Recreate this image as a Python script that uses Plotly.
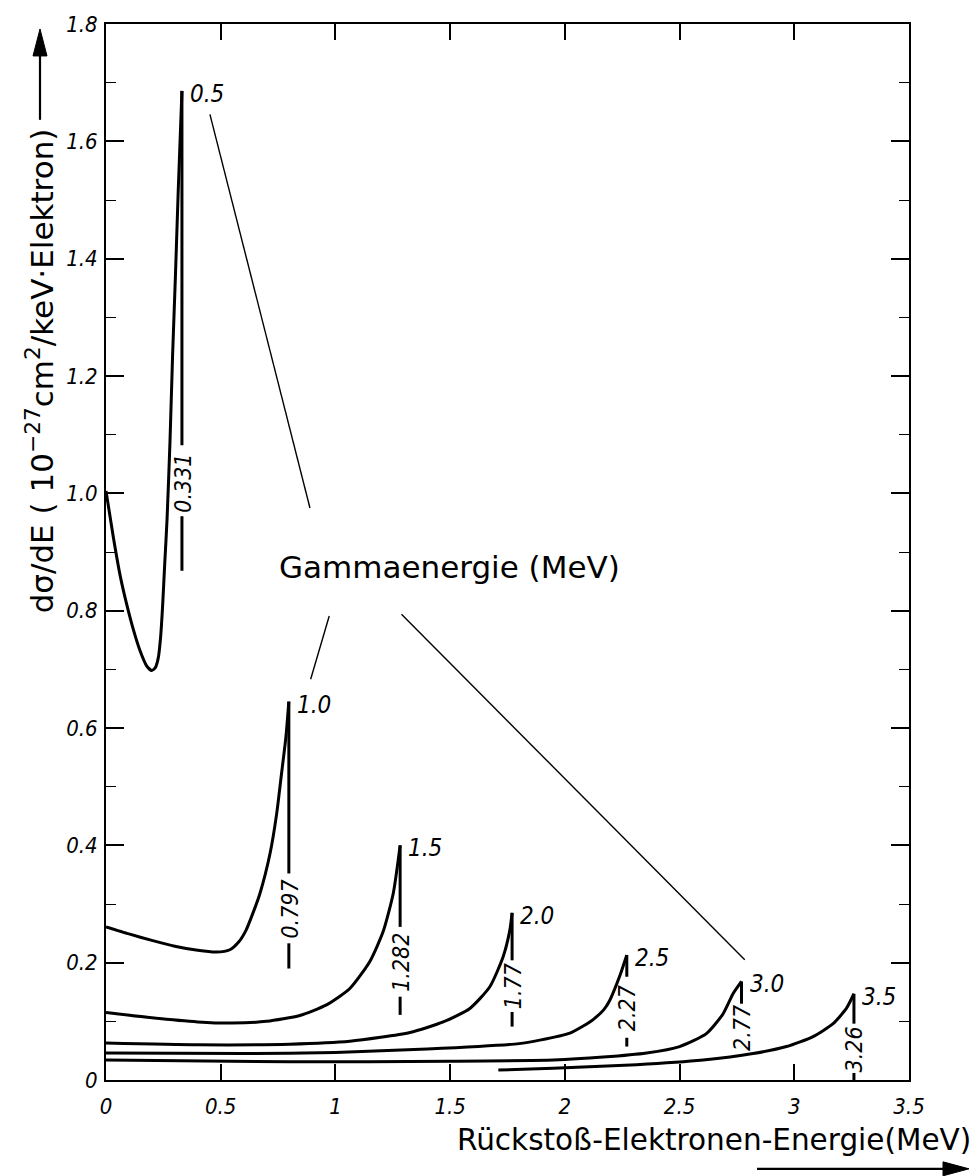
import plotly.graph_objects as go

# Gamma energies (MeV) with their Compton edges (MeV)
GAMMA_LABELS = ["0.5", "1.0", "1.5", "2.0", "2.5", "3.0", "3.5"]
EDGE = [0.331, 0.797, 1.282, 1.77, 2.27, 2.77, 3.26]
EDGE_LABELS = ["0.331", "0.797", "1.282", "1.77", "2.27", "2.77", "3.26"]

# Recoil electron energy (MeV) and dσ/dE (10^-27 cm²/keV·electron) per gamma energy
E_05 = [0.0, 0.032, 0.061, 0.090, 0.119, 0.148, 0.177, 0.199, 0.215, 0.228, 0.238,
        0.247, 0.256, 0.266, 0.279, 0.290, 0.303, 0.315, 0.331]
S_05 = [1.004, 0.925, 0.861, 0.811, 0.768, 0.732, 0.706, 0.698, 0.703, 0.720, 0.755,
        0.810, 0.880, 0.955, 1.089, 1.232, 1.375, 1.518, 1.686]

E_10 = [0.0, 0.1, 0.2, 0.3, 0.4, 0.48, 0.54, 0.58, 0.61, 0.64, 0.671, 0.715, 0.744,
        0.765, 0.784, 0.797]
S_10 = [0.261, 0.249, 0.238, 0.228, 0.221, 0.218, 0.222, 0.236, 0.255, 0.284, 0.318,
        0.386, 0.454, 0.522, 0.584, 0.645]

E_15 = [0.0, 0.2, 0.4, 0.55, 0.7, 0.845, 0.961, 1.063, 1.15, 1.208, 1.252, 1.282]
S_15 = [0.115, 0.106, 0.099, 0.097, 0.100, 0.110, 0.128, 0.156, 0.202, 0.253, 0.318, 0.400]

E_20 = [0.0, 0.4, 0.8, 1.063, 1.325, 1.47, 1.586, 1.673, 1.731, 1.76, 1.77]
S_20 = [0.063, 0.060, 0.061, 0.066, 0.081, 0.099, 0.122, 0.159, 0.210, 0.255, 0.285]

E_25 = [0.0, 0.6, 1.0, 1.4, 1.8, 1.891, 2.022, 2.08, 2.123, 2.17, 2.196, 2.24, 2.27]
S_25 = [0.046, 0.045, 0.047, 0.053, 0.062, 0.068, 0.080, 0.092, 0.103, 0.120, 0.136,
        0.178, 0.213]

E_30 = [0.0, 0.8, 1.5, 1.95, 2.167, 2.356, 2.5, 2.617, 2.69, 2.733, 2.77]
S_30 = [0.034, 0.031, 0.032, 0.034, 0.039, 0.046, 0.057, 0.079, 0.113, 0.147, 0.168]

E_35 = [1.71, 1.949, 2.312, 2.603, 2.82, 2.966, 3.082, 3.169, 3.227, 3.26]
S_35 = [0.017, 0.020, 0.026, 0.034, 0.045, 0.057, 0.074, 0.096, 0.122, 0.147]

CURVES = [(E_05, S_05), (E_10, S_10), (E_15, S_15), (E_20, S_20),
          (E_25, S_25), (E_30, S_30), (E_35, S_35)]

X_TICKS = [0, 0.5, 1, 1.5, 2, 2.5, 3, 3.5]
X_TICK_TEXT = ["0", "0.5", "1", "1.5", "2", "2.5", "3", "3.5"]
Y_TICKS = [0, 0.2, 0.4, 0.6, 0.8, 1.0, 1.2, 1.4, 1.6, 1.8]
Y_TICK_TEXT = ["0", "0.2", "0.4", "0.6", "0.8", "1.0", "1.2", "1.4", "1.6", "1.8"]

# ---- layout geometry (pixels) ----
W, H = 980, 1176
PX_L, PX_R, PX_T, PX_B = 106, 909, 22, 1080


def px(x):
    return (x - PX_L) / (PX_R - PX_L)


def py(y):
    return (PX_B - y) / (PX_B - PX_T)


# where each edge marker breaks for its rotated label:
# (end of upper stroke, label centre, lower stroke start, lower stroke end)
EDGE_BREAKS = [
    (1.082, 1.018, 0.961, 0.868),
    (0.352, 0.292, 0.233, 0.190),
    (0.261, 0.200, 0.142, 0.111),
    (0.204, 0.160, 0.116, 0.091),
    (0.176, 0.122, 0.072, 0.057),
    (0.130, 0.088, None, None),
    (0.096, 0.052, 0.012, 0.0),
]

NARROW = "Liberation Sans Narrow, DejaVu Sans Condensed, Arial Narrow, sans-serif"
PLAIN = "DejaVu Sans, Liberation Sans, sans-serif"
INK = "black"

fig = go.Figure()

for e, s in CURVES:
    fig.add_trace(go.Scatter(x=e, y=s, mode="lines",
                             line=dict(color=INK, width=3, shape="spline", smoothing=0.6),
                             hoverinfo="skip", showlegend=False))

annotations = []
for (e, s), edge, glab, elab, brk in zip(CURVES, EDGE, GAMMA_LABELS, EDGE_LABELS, EDGE_BREAKS):
    top = s[-1]
    up_end, lab_c, lo_a, lo_b = brk
    fig.add_trace(go.Scatter(x=[edge, edge], y=[top, up_end], mode="lines",
                             line=dict(color=INK, width=3),
                             hoverinfo="skip", showlegend=False))
    if lo_a is not None:
        fig.add_trace(go.Scatter(x=[edge, edge], y=[lo_a, lo_b], mode="lines",
                                 line=dict(color=INK, width=3),
                                 hoverinfo="skip", showlegend=False))
    # gamma energy next to the peak
    annotations.append(dict(x=edge, y=top, xref="x", yref="y", text=glab,
                            showarrow=False, xanchor="left", yanchor="middle",
                            xshift=6, yshift=-3,
                            font=dict(family=NARROW, size=24, color=INK, style="italic")))
    # Compton edge value, rotated along the marker
    annotations.append(dict(x=edge, y=lab_c, xref="x", yref="y", text=elab,
                            showarrow=False, textangle=-90, xanchor="center",
                            yanchor="middle", xshift=1,
                            font=dict(family=NARROW, size=23, color=INK, style="italic")))

# central caption
annotations.append(dict(x=1.499, y=0.874, xref="x", yref="y",
                        text="Gammaenergie (MeV)", showarrow=False,
                        xanchor="center", yanchor="middle",
                        font=dict(family=PLAIN, size=31, color=INK)))

# axis captions
annotations.append(dict(x=px(973), y=py(1140), xref="paper", yref="paper",
                        text="Rückstoß-Elektronen-Energie(MeV)", showarrow=False,
                        xanchor="right", yanchor="middle",
                        font=dict(family=PLAIN, size=29.5, color=INK)))
annotations.append(dict(x=px(40), y=py(370), xref="paper", yref="paper",
                        text="dσ/dE ( 10<sup>−27</sup>cm<sup>2</sup>/keV·Elektron)",
                        showarrow=False, textangle=-90,
                        xanchor="center", yanchor="middle",
                        font=dict(family=PLAIN, size=31, color=INK)))

shapes = []
# leader lines from the caption to the curve labels
for (x0, y0, x1, y1) in [(0.453, 1.646, 0.889, 0.975),
                         (0.973, 0.791, 0.892, 0.683),
                         (1.288, 0.794, 2.784, 0.205)]:
    shapes.append(dict(type="line", xref="x", yref="y", x0=x0, y0=y0, x1=x1, y1=y1,
                       line=dict(color=INK, width=1.4)))

# arrow under the x caption
shapes.append(dict(type="line", xref="paper", yref="paper",
                   x0=px(757), y0=py(1169), x1=px(948), y1=py(1169),
                   line=dict(color=INK, width=2.2)))
shapes.append(dict(type="path", xref="paper", yref="paper",
                   path=f"M {px(943)} {py(1162)} L {px(969)} {py(1169)} L {px(943)} {py(1176)} Z",
                   fillcolor=INK, line=dict(color=INK, width=1)))
# arrow above the y caption
shapes.append(dict(type="line", xref="paper", yref="paper",
                   x0=px(40), y0=py(118), x1=px(40), y1=py(50),
                   line=dict(color=INK, width=2.2)))
shapes.append(dict(type="path", xref="paper", yref="paper",
                   path=f"M {px(33)} {py(54)} L {px(40)} {py(27)} L {px(47)} {py(54)} Z",
                   fillcolor=INK, line=dict(color=INK, width=1)))

tick_font = dict(family=NARROW, size=22, color=INK, style="italic")

fig.update_layout(
    width=W, height=H,
    margin=dict(l=PX_L, r=W - PX_R, t=PX_T, b=H - PX_B, pad=0),
    paper_bgcolor="white", plot_bgcolor="white",
    showlegend=False,
    annotations=annotations,
    shapes=shapes,
    xaxis=dict(range=[0, 3.5], tickvals=X_TICKS, ticktext=X_TICK_TEXT,
               ticks="inside", ticklen=16, tickwidth=1.6, tickcolor=INK,
               showline=True, linewidth=2, linecolor=INK, mirror="ticks",
               showgrid=False, zeroline=False, tickfont=tick_font,
               ticklabelstandoff=6),
    yaxis=dict(range=[0, 1.8], tickvals=Y_TICKS, ticktext=Y_TICK_TEXT,
               ticks="inside", ticklen=18, tickwidth=1.6, tickcolor=INK,
               minor=dict(dtick=0.1, tick0=0, ticks="inside", ticklen=10,
                          tickwidth=1.4, tickcolor=INK),
               showline=True, linewidth=2, linecolor=INK, mirror="ticks",
               showgrid=False, zeroline=False, tickfont=tick_font,
               ticklabelstandoff=2),
)

fig.write_html("out.html")
